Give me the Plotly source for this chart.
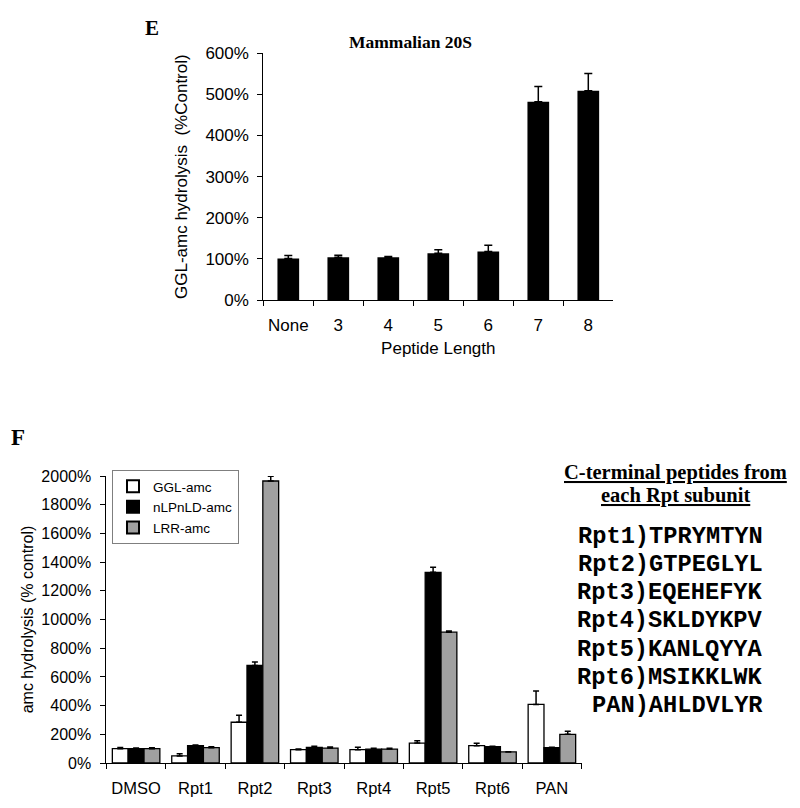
import plotly.graph_objects as go

W, H = 800, 808

# ---------------- Panel E data ----------------
lengths = ["None", "3", "4", "5", "6", "7", "8"]
ggl_20s = [101, 104, 104, 114, 118, 482, 509]
ggl_20s_err = [7, 5, 2, 8, 15, 37, 42]
e_ticks = [0, 100, 200, 300, 400, 500, 600]

# ---------------- Panel F data ----------------
treatments = ["DMSO", "Rpt1", "Rpt2", "Rpt3", "Rpt4", "Rpt5", "Rpt6", "PAN"]
ggl = [100, 49, 284, 93, 93, 139, 121, 408]
ggl_err = [8, 16, 48, 4, 16, 16, 16, 93]
nlpnld = [100, 121, 680, 109, 97, 1329, 114, 107]
nlpnld_err = [4, 4, 23, 7, 5, 35, 2, 3]
lrr = [100, 107, 1965, 104, 97, 912, 77, 200]
lrr_err = [6, 6, 33, 7, 5, 7, 2, 21]
series_names = ["GGL-amc", "nLPnLD-amc", "LRR-amc"]
series_colors = ["white", "black", "#a0a0a0"]
f_ticks = [0, 200, 400, 600, 800, 1000, 1200, 1400, 1600, 1800, 2000]

subunits = ["Rpt1", "Rpt2", "Rpt3", "Rpt4", "Rpt5", "Rpt6", "PAN"]
peptides = ["TPRYMTYN", "GTPEGLYL", "EQEHEFYK", "SKLDYKPV",
            "KANLQYYA", "MSIKKLWK", "AHLDVLYR"]

SANS = "Liberation Sans, Arial, sans-serif"
SERIF = "Liberation Serif, Times New Roman, serif"
MONO = "Liberation Mono, Courier New, monospace"


def px(x):
    return x / W


def py(y):
    return 1 - y / H


fig = go.Figure()

# Panel E bars
fig.add_trace(go.Bar(
    x=lengths, y=ggl_20s, xaxis="x", yaxis="y", width=0.434,
    marker=dict(color="black", line=dict(color="black", width=0)),
    error_y=dict(type="data", array=ggl_20s_err, arrayminus=[0] * len(lengths),
                 symmetric=False, color="black", thickness=1.5, width=4),
    showlegend=False,
))

# Panel F bars
for name, vals, errs, col in zip(series_names, [ggl, nlpnld, lrr],
                                 [ggl_err, nlpnld_err, lrr_err], series_colors):
    fig.add_trace(go.Bar(
        x=treatments, y=vals, name=name, xaxis="x2", yaxis="y2",
        marker=dict(color=col, line=dict(color="black", width=1.3)),
        error_y=dict(type="data", array=errs, arrayminus=[0] * len(treatments),
                     symmetric=False, color="black", thickness=1.5, width=3),
        showlegend=False,
    ))
    # small square legend swatches
    fig.add_trace(go.Scatter(
        x=[None], y=[None], xaxis="x2", yaxis="y2", mode="markers", name=name,
        marker=dict(symbol="square", size=7, color=col,
                    line=dict(color="black", width=1.2)),
        showlegend=True,
    ))

axis_common = dict(showline=True, linecolor="black", linewidth=1, showgrid=False,
                   zeroline=False, ticks="outside", ticklen=5, tickcolor="black",
                   tickwidth=1, automargin=False)

fig.update_layout(
    template="none",
    width=W, height=H,
    margin=dict(l=0, r=0, t=0, b=0, pad=0, autoexpand=False),
    paper_bgcolor="white", plot_bgcolor="white",
    barmode="group", bargap=0.2, bargroupgap=0,
    font=dict(family=SANS, color="black"),
    xaxis=dict(domain=[px(263.3), px(613.3)], anchor="y", type="category",
               tickson="boundaries", tickfont=dict(size=17, family=SANS),
               ticklabelstandoff=10,
               title=dict(text="Peptide Length", font=dict(size=17, family=SANS), standoff=7),
               **axis_common),
    yaxis=dict(domain=[py(300), py(53.3)], anchor="x", range=[0, 600],
               tickvals=e_ticks, ticktext=[f"{v}%" for v in e_ticks],
               tickfont=dict(size=17, family=SANS), ticklabelstandoff=5,
               title=dict(text="GGL-amc hydrolysis\u00a0 (%Control)",
                          font=dict(size=17, family=SANS), standoff=13),
               **axis_common),
    xaxis2=dict(domain=[px(106.4), px(581.6)], anchor="y2", type="category",
                tickson="boundaries", tickfont=dict(size=16.5, family=SANS),
                ticklabelstandoff=10,
                **axis_common),
    yaxis2=dict(domain=[py(763), py(476)], anchor="x2", range=[0, 2000],
                tickvals=f_ticks, ticktext=[f"{v}%" for v in f_ticks],
                tickfont=dict(size=16, family=SANS), ticklabelstandoff=6,
                title=dict(text="amc hydrolysis (% control)",
                           font=dict(size=16, family=SANS), standoff=3),
                **axis_common),
    legend=dict(x=px(112), y=py(470), xanchor="left", yanchor="top",
                bgcolor="white", bordercolor="#7f7f7f", borderwidth=1,
                font=dict(size=13.5, family=SANS), tracegroupgap=0,
                itemsizing="constant"),
)

annotations = [
    dict(text="<b>E</b>", x=px(152), y=py(28.3), font=dict(size=21, family=SERIF)),
    dict(text="<b>Mammalian 20S</b>", x=px(410.7), y=py(41.7),
         font=dict(size=17.5, family=SERIF)),
    dict(text="<b>F</b>", x=px(17.9), y=py(437.3), font=dict(size=23, family=SERIF)),
    dict(text="<b><u>C-terminal peptides from</u></b>", x=px(675), y=py(472.5),
         font=dict(size=20.5, family=SERIF)),
    dict(text="<b><u>each Rpt subunit</u></b>", x=px(675), y=py(495.8),
         font=dict(size=20.5, family=SERIF)),
]
for a in annotations:
    a.update(xref="paper", yref="paper", showarrow=False,
             xanchor="center", yanchor="middle")
    fig.add_annotation(**a)

line0, step = 536.0, 28.33
for i, (s, p) in enumerate(zip(subunits, peptides)):
    fig.add_annotation(
        text=f"<b>{s}){p}</b>", xref="paper", yref="paper",
        x=px(765), y=py(line0 + i * step), xanchor="right", yanchor="middle",
        showarrow=False, font=dict(size=23.7, family=MONO, color="black"),
    )

fig.write_html("out.html", config={"displayModeBar": False},
               post_script="document.body.style.margin='0';document.body.style.overflow='hidden';")
